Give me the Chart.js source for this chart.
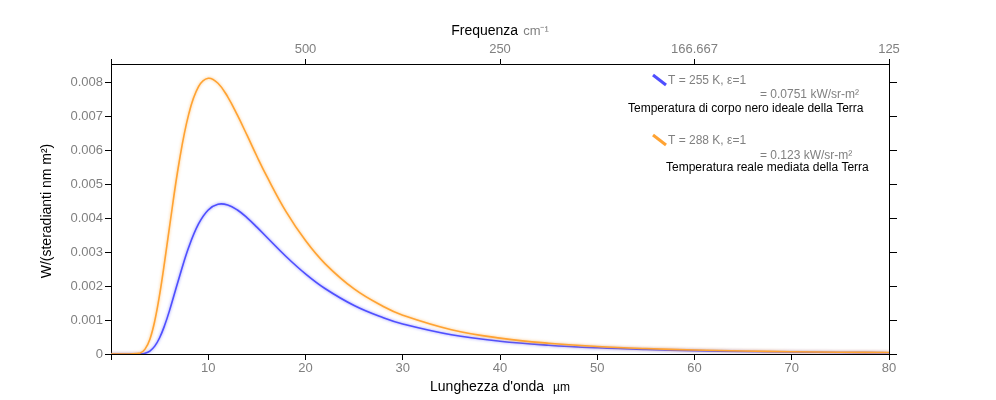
<!DOCTYPE html>
<html><head><meta charset="utf-8">
<script src="https://cdn.jsdelivr.net/npm/chart.js@4/dist/chart.umd.min.js"></script>
<style>body{margin:0;background:#fff}</style></head>
<body><div style="width:996px;height:400px"><canvas id="c" width="996" height="400"></canvas></div>
<script>
// Wavelength (µm)
const wavelengths = [0,1,2,3,3.5,4,4.5,5,5.5,6,7,8,9,10,11,12,13,14,15,16,18,20,22,25,28,30,35,40,45,50,55,60,65,70,75,80];
// Spectral radiance W/(sr nm m²) at T = 255 K
const radiance255 = [0,0,0,0.0000033,0.0000226,0.000087,0.000231,0.000478,0.000829,0.001261,0.002236,0.003145,0.003825,0.004237,0.004404,0.004383,0.004236,0.004006,0.003733,0.003442,0.002868,0.002356,0.001926,0.001426,0.001065,0.000882,0.000565,0.000375,0.000258,0.000182,0.000132,0.000098,0.000074,0.000057,0.000045,0.000035];
// Spectral radiance W/(sr nm m²) at T = 288 K
const radiance288 = [0,0,0,0.000029,0.000144,0.000437,0.000973,0.001743,0.002686,0.003704,0.005633,0.007063,0.007863,0.008110,0.007963,0.007565,0.007024,0.006428,0.005817,0.005237,0.004188,0.003336,0.002660,0.001913,0.001397,0.001143,0.000716,0.000468,0.000317,0.000222,0.000160,0.000118,0.000089,0.000068,0.000053,0.000042];

const yTickValues = [0,0.001,0.002,0.003,0.004,0.005,0.006,0.007,0.008];
const yTickLabels = ['0','0.001','0.002','0.003','0.004','0.005','0.006','0.007','0.008'];
const xTickValues = [0,10,20,30,40,50,60,70,80];
const xTickLabels = ['','10','20','30','40','50','60','70','80'];
const topTickValues = [0,20,40,60,80];
const topTickLabels = ['','500','250','166.667','125'];

const seriesNames = ['T = 255 K, ε=1','T = 288 K, ε=1'];
const seriesTotals = ['= 0.0751 kW/sr-m²','= 0.123 kW/sr-m²'];
const seriesNotes = ['Temperatura di corpo nero ideale della Terra','Temperatura reale mediata della Terra'];

const xTitle = "Lunghezza d'onda", xUnit = 'µm';
const topTitle = 'Frequenza', topUnit = 'cm⁻¹';
const yTitle = 'W/(steradianti nm m²)';

const FAM = "'Liberation Sans', Arial, sans-serif";
const BLUE = '#4f4fff', ORANGE = '#ffa333', GRAY = '#808080';

const toPts = arr => wavelengths.map((x,i)=>({x, y: arr[i]}));

const glow = {
  id:'glow',
  beforeDatasetDraw(chart,args){const c=chart.ctx;c.save();c.shadowColor=chart.data.datasets[args.index].borderColor+'aa';c.shadowBlur=3;},
  afterDatasetDraw(chart){chart.ctx.restore();}
};

const deco = {
  id:'deco',
  afterDraw(chart){
    const c = chart.ctx, a = chart.chartArea;
    c.save();
    // Y title
    c.fillStyle='#000'; c.font='14px '+FAM; c.textAlign='center'; c.textBaseline='middle';
    c.save(); c.translate(47,(a.top+a.bottom)/2+2); c.rotate(-Math.PI/2); c.fillText(yTitle,0,0); c.restore();
    // X title
    const cx=(a.left+a.right)/2;
    c.font='14px '+FAM; const w1=c.measureText(xTitle).width;
    c.font='12px '+FAM; const w2=c.measureText(xUnit).width;
    let sx=cx-(w1+9+w2)/2;
    c.textAlign='left';
    c.font='14px '+FAM; c.fillStyle='#000'; c.fillText(xTitle,sx,387);
    c.font='12px '+FAM; c.fillText(xUnit,sx+w1+9,388);
    // Top title
    c.font='14px '+FAM; const t1=c.measureText(topTitle).width;
    c.font='13px '+FAM; const t2=c.measureText(topUnit).width;
    sx=cx-(t1+5+t2)/2;
    c.font='14px '+FAM; c.fillStyle='#000'; c.fillText(topTitle,sx,31);
    c.font='13px '+FAM; c.fillStyle=GRAY; c.fillText(topUnit,sx+t1+5,31);
    // Legend
    const cols=[BLUE,ORANGE], oy=[0,60], noteX=[628,666];
    for(let i=0;i<2;i++){
      const y0=a.top+oy[i];
      c.strokeStyle=cols[i]; c.lineWidth=3; c.beginPath(); c.moveTo(653,y0+11); c.lineTo(666,y0+21); c.stroke();
      c.font='12px '+FAM; c.fillStyle=GRAY; c.textAlign='left';
      c.fillText(seriesNames[i],668,y0+17);
      c.fillText(seriesTotals[i],760,y0+31+(i?1:0));
      c.fillStyle='#000';
      c.fillText(seriesNotes[i],noteX[i],y0+45-(i?1:0));
    }
    c.restore();
  }
};

const tickFont = {size:13, family:FAM};
new Chart(document.getElementById('c'), {
  type:'line',
  data:{datasets:[
    {label:seriesNames[0], data:toPts(radiance255), borderColor:BLUE, borderWidth:1.6, pointRadius:0, tension:0.4, fill:false, order:1, xAxisID:'x', yAxisID:'y'},
    {label:seriesNames[1], data:toPts(radiance288), borderColor:ORANGE, borderWidth:1.6, pointRadius:0, tension:0.4, fill:false, order:0, xAxisID:'x', yAxisID:'y'}
  ]},
  options:{
    responsive:false, animation:false, devicePixelRatio:1,
    layout:{padding:0},
    plugins:{legend:{display:false}, tooltip:{enabled:false}},
    scales:{
      x:{type:'linear', position:'bottom', min:0, max:80,
         afterBuildTicks:s=>{s.ticks=xTickValues.map(v=>({value:v}));},
         ticks:{color:GRAY, font:tickFont, padding:1, maxRotation:0, autoSkip:false, callback:(v,i)=>xTickLabels[i]},
         grid:{drawOnChartArea:false, color:'#000', tickLength:6}, border:{color:'#000'},
         afterFit:s=>{s.height=46;}},
      x2:{type:'linear', position:'top', min:0, max:80,
         afterBuildTicks:s=>{s.ticks=topTickValues.map(v=>({value:v}));},
         ticks:{color:GRAY, font:tickFont, padding:2, maxRotation:0, autoSkip:false, callback:(v,i)=>topTickLabels[i]},
         grid:{drawOnChartArea:false, color:'#000', tickLength:5}, border:{color:'#000'},
         afterFit:s=>{s.height=64;}},
      y:{type:'linear', position:'left', min:0, max:0.00853,
         afterBuildTicks:s=>{s.ticks=yTickValues.map(v=>({value:v}));},
         ticks:{color:GRAY, font:tickFont, padding:2, autoSkip:false, callback:(v,i)=>yTickLabels[i]},
         grid:{drawOnChartArea:false, color:'#000', tickLength:6}, border:{color:'#000'},
         afterFit:s=>{s.width=111;}},
      y2:{type:'linear', position:'right', min:0, max:0.00853,
         afterBuildTicks:s=>{s.ticks=yTickValues.map(v=>({value:v}));},
         ticks:{color:GRAY, font:tickFont, padding:0, autoSkip:false, callback:()=>''},
         grid:{drawOnChartArea:false, color:'#000', tickLength:8}, border:{color:'#000'},
         afterFit:s=>{s.width=107;}}
    }
  },
  plugins:[glow, deco]
});
</script></body></html>
